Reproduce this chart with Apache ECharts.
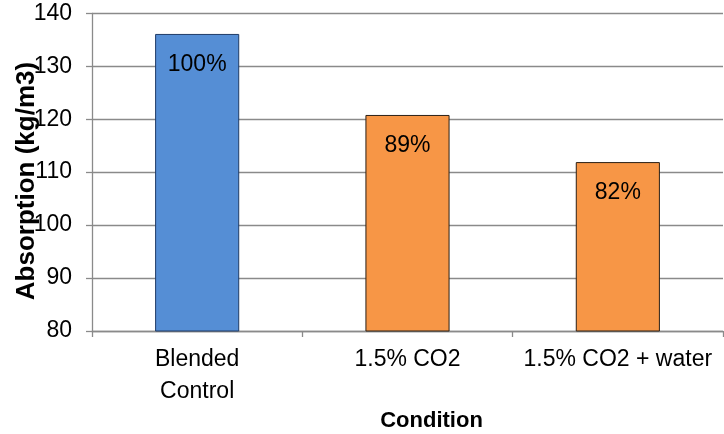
<!DOCTYPE html>
<html>
<head>
<meta charset="utf-8">
<script src="https://cdn.jsdelivr.net/npm/echarts@6/dist/echarts.min.js"></script>
<style>
html,body{margin:0;padding:0;background:#fff;}
#c{width:724px;height:434px;}
</style>
</head>
<body>
<div id="c"></div>
<script>
const categories = ['Blended\nControl', '1.5% CO2', '1.5% CO2 + water'];
const values = [136.1, 120.8, 111.9];
const barLabels = ['100%', '89%', '82%'];
const barColors = ['#558ED5', '#F79646', '#F79646'];
const barBorders = ['#1F3B66', '#2B2016', '#2B2016'];
const yTicks = { min: 80, max: 140, interval: 10 };
const xTitle = 'Condition';
const yTitle = 'Absorption (kg/m3)';

const FONT = '"Liberation Sans", Arial, sans-serif';
const chart = echarts.init(document.getElementById('c'), null, { renderer: 'canvas' });

chart.setOption({
  animation: false,
  backgroundColor: '#ffffff',
  grid: { left: 92, right: 1, top: 13.3, bottom: 103, containLabel: false },
  xAxis: {
    type: 'category',
    data: categories,
    boundaryGap: true,
    axisLine: { show: true, lineStyle: { color: '#8a8a8a', width: 1.3 } },
    axisTick: { show: true, length: 6, alignWithLabel: false, lineStyle: { color: '#8a8a8a', width: 1.3 } },
    axisLabel: { color: '#000', fontFamily: FONT, fontSize: 23, lineHeight: 32, margin: 13, interval: 0 }
  },
  yAxis: {
    type: 'value',
    min: yTicks.min, max: yTicks.max, interval: yTicks.interval,
    axisLine: { show: true, lineStyle: { color: '#8a8a8a', width: 1.3 } },
    axisTick: { show: true, length: 6, lineStyle: { color: '#8a8a8a', width: 1.3 } },
    axisLabel: { color: '#000', fontFamily: FONT, fontSize: 23, margin: 20 },
    splitLine: { show: true, lineStyle: { color: '#8a8a8a', width: 1.3 } }
  },
  series: [{
    type: 'bar',
    barWidth: '40%',
    data: values.map((v, i) => ({
      value: v,
      itemStyle: { color: barColors[i], borderColor: barBorders[i], borderWidth: 1 },
      label: { formatter: barLabels[i] }
    })),
    label: {
      show: true, position: 'insideTop', distance: 19,
      color: '#000', fontFamily: FONT, fontSize: 23
    }
  }],
  graphic: [
    {
      type: 'text', x: 431.5, y: 420.5,
      style: { text: xTitle, font: 'bold 22px ' + FONT, fill: '#000', textAlign: 'center', textVerticalAlign: 'middle' }
    },
    {
      type: 'text', x: 27, y: 181, rotation: Math.PI / 2,
      style: { text: yTitle, font: 'bold 26px ' + FONT, fill: '#000', textAlign: 'center', textVerticalAlign: 'middle' }
    }
  ]
});
</script>
</body>
</html>
